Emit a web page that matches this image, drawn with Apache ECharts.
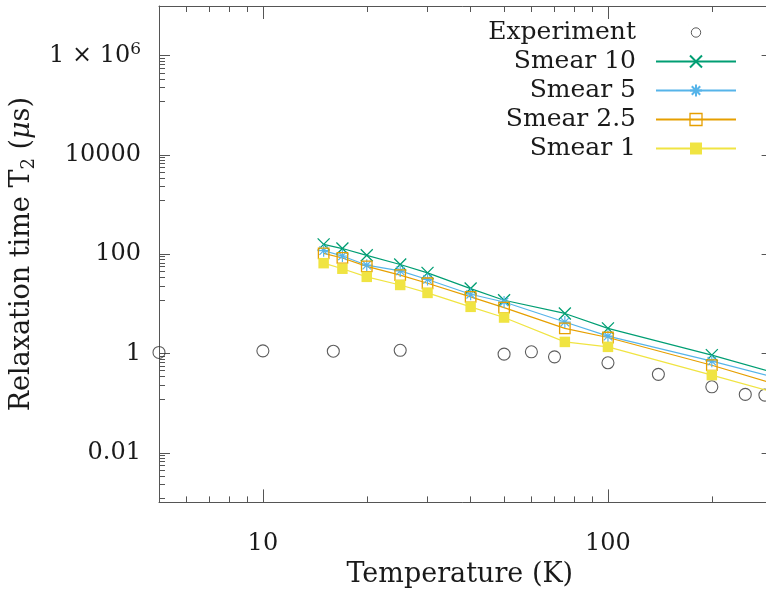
<!DOCTYPE html>
<html><head><meta charset="utf-8">
<script src="https://cdn.jsdelivr.net/npm/echarts@6/dist/echarts.min.js"></script>
<style>html,body{margin:0;padding:0;background:#fff}#c{width:766px;height:592px}</style>
</head><body><div id="c"></div>
<script>
// ---- data ----
const expT   = [5, 10, 16, 25, 50, 60, 70, 100, 140, 200, 250, 285];
const expT2  = [1.05, 1.13, 1.11, 1.16, 0.97, 1.08, 0.855, 0.65, 0.38, 0.213, 0.15, 0.145];
const smearT = [15, 17, 20, 25, 30, 40, 50, 75, 100, 200, 300];
const smear10  = [158, 130, 95, 62, 42, 20.3, 11.8, 6.4, 3.2, 0.925, 0.42];
const smear5   = [118, 92, 60, 46, 31, 15.6, 10.9, 4.3, 2.23, 0.70, 0.34];
const smear2_5 = [104, 84, 57, 38, 26, 13.8, 8.4, 3.2, 2.1, 0.58, 0.25];
const smear1   = [66, 51, 35, 24, 16.6, 8.7, 5.3, 1.71, 1.36, 0.366, 0.168];
const xMajor = [10, 100];
const xMinor = [6, 7, 8, 9, 20, 30, 40, 50, 60, 70, 80, 90, 200];
const yMajor = [0.01, 1, 100, 10000, 1000000];
const seriesNames = ['Experiment', 'Smear 10', 'Smear 5', 'Smear 2.5', 'Smear 1'];

// minor y ticks: gnuplot splits each 100x major interval linearly in 9 parts
const yMinor = [];
[0.0001].concat(yMajor).forEach(lo => {
  for (let k = 1; k <= 8; k++) { const v = lo * (1 + 11 * k); if (v >= 1e-3 && v <= 1e7) yMinor.push(v); }
});

const FONT = 'DejaVu Serif';
const TXT = '#1a1a1a';
const AX = '#555';
const GREEN = '#009e73', BLUE = '#56b4e9', ORANGE = '#e69f00', YELLOW = '#f0e442';

const zip = (a, b) => a.map((v, i) => [v, b[i]]);
const gridRect = { left: 159, right: -6.6, top: 6, bottom: 89.6, containLabel: false, outerBoundsMode: 'none' };

function xAx(grid, pos, ticks, len, extra) {
  return Object.assign({
    type: 'log', logBase: 10, min: 5, max: 300, gridIndex: grid, position: pos,
    axisLine: { show: grid === 0, lineStyle: { color: AX, width: 1 } },
    axisTick: { show: true, inside: true, length: len, customValues: ticks, lineStyle: { color: AX, width: 1 } },
    axisLabel: { show: false },
    splitLine: { show: false }, minorTick: { show: false }
  }, extra || {});
}
function yAx(grid, pos, ticks, len, extra) {
  return Object.assign({
    type: 'log', logBase: 10, min: 0.001, max: 1e7, gridIndex: grid, position: pos,
    axisLine: { show: grid === 0, lineStyle: { color: AX, width: 1 } },
    axisTick: { show: true, inside: true, length: len, customValues: ticks, lineStyle: { color: AX, width: 1 } },
    axisLabel: { show: false },
    splitLine: { show: false }, minorTick: { show: false }
  }, extra || {});
}

const option = {
  backgroundColor: '#fff',
  animation: false,
  grid: [Object.assign({}, gridRect), Object.assign({}, gridRect)],
  xAxis: [
    xAx(0, 'bottom', xMajor, 13, {
      axisLabel: {
        show: true, customValues: xMajor, margin: 29,
        fontFamily: FONT, fontSize: 24, color: TXT,
        formatter: v => String(Math.round(v))
      },
      name: 'Temperature (K)', nameLocation: 'middle', nameGap: 59,
      nameTextStyle: { fontFamily: FONT, fontSize: 27, color: TXT, padding: [0, 12, 0, 0] }
    }),
    xAx(0, 'top', xMajor, 13),
    xAx(1, 'bottom', xMinor, 6),
    xAx(1, 'top', xMinor, 6)
  ],
  yAxis: [
    yAx(0, 'left', yMajor, 11, {
      axisLabel: {
        show: true, customValues: yMajor, margin: 18,
        formatter: v => {
          const e = Math.round(Math.log10(v));
          if (e >= 6) return '{b|1 × 10}{s|' + e + '}';
          return '{b|' + (e < 0 ? v.toFixed(-e) : String(Math.round(v))) + '}';
        },
        rich: {
          b: { fontFamily: FONT, fontSize: 24, color: TXT, lineHeight: 30 },
          s: { fontFamily: FONT, fontSize: 17, color: TXT, lineHeight: 16, verticalAlign: 'top' }
        }
      },
      name: '{a|Relaxation time T}{s|2}{a| (}{i|μ}{a|s)}',
      nameLocation: 'middle', nameGap: 108, nameRotate: 90,
      nameTextStyle: {
        rich: {
          a: { fontFamily: FONT, fontSize: 27, color: TXT, lineHeight: 32 },
          s: { fontFamily: FONT, fontSize: 18, color: TXT, lineHeight: 14, verticalAlign: 'bottom' },
          i: { fontFamily: FONT, fontSize: 27, fontStyle: 'italic', color: TXT, lineHeight: 32 }
        }
      }
    }),
    yAx(0, 'right', yMajor, 11),
    yAx(1, 'left', yMinor, 6),
    yAx(1, 'right', yMinor, 6)
  ],
  legend: {
    orient: 'vertical', right: 29, top: 20, padding: 0, align: 'right',
    itemWidth: 80, itemHeight: 15, itemGap: 4, selectedMode: false,
    textStyle: { fontFamily: FONT, fontSize: 25, color: TXT, lineHeight: 20, padding: [0, 15, 0, 0] },
    data: [
      { name: 'Experiment', icon: 'path://M0,0L0.001,0M16,16L16.001,16M3,8A5,5 0 1,1 13,8A5,5 0 1,1 3,8Z', itemStyle: { color: '#fff', borderColor: '#333', borderWidth: 1 } },
      'Smear 10', 'Smear 5',
      { name: 'Smear 2.5', itemStyle: { color: 'rgba(0,0,0,0)', borderColor: ORANGE, borderWidth: 1.3 } },
      'Smear 1'
    ]
  },
  series: [
    {
      name: seriesNames[0], type: 'scatter', xAxisIndex: 0, yAxisIndex: 0,
      data: zip(expT, expT2), symbol: 'circle', symbolSize: 12,
      itemStyle: { color: 'rgba(0,0,0,0)', borderColor: '#333', borderWidth: 1.1 }
    },
    {
      name: seriesNames[1], type: 'line', xAxisIndex: 0, yAxisIndex: 0,
      data: zip(smearT, smear10), symbol: 'path://M0,0L10,10M10,0L0,10', symbolSize: 12,
      itemStyle: { color: GREEN, borderColor: GREEN, borderWidth: 1.3 },
      lineStyle: { color: GREEN, width: 1.2 }
    },
    {
      name: seriesNames[2], type: 'line', xAxisIndex: 0, yAxisIndex: 0,
      data: zip(smearT, smear5), symbol: 'path://M5,0L5,10M0,5L10,5M1.5,1.5L8.5,8.5M8.5,1.5L1.5,8.5', symbolSize: 12,
      itemStyle: { color: BLUE, borderColor: BLUE, borderWidth: 1.2 },
      lineStyle: { color: BLUE, width: 1.2 }
    },
    {
      name: seriesNames[3], type: 'line', xAxisIndex: 0, yAxisIndex: 0,
      data: zip(smearT, smear2_5), symbol: 'path://M0,0L10,0L10,10L0,10Z', symbolSize: 10.5,
      itemStyle: { color: 'rgba(0,0,0,0)', borderColor: ORANGE, borderWidth: 1.3 },
      lineStyle: { color: ORANGE, width: 1.2 }
    },
    {
      name: seriesNames[4], type: 'line', xAxisIndex: 0, yAxisIndex: 0,
      data: zip(smearT, smear1), symbol: 'rect', symbolSize: 10.5,
      itemStyle: { color: YELLOW },
      lineStyle: { color: YELLOW, width: 1.2 }
    }
  ]
};
const chart = echarts.init(document.getElementById('c'), null, { renderer: 'canvas' });
chart.setOption(option);
</script>
</body></html>
